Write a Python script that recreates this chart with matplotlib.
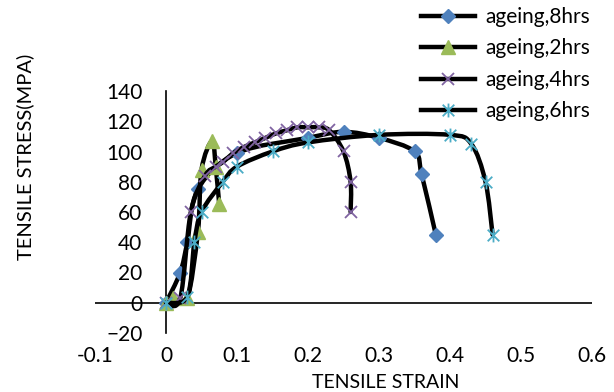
import numpy as np
from matplotlib import pyplot as plt
from matplotlib.path import Path
from matplotlib.patches import PathPatch
from matplotlib.lines import Line2D

# strain / stress readings per ageing time
x_8hrs = [0, 0.02, 0.03, 0.045, 0.1, 0.2, 0.25, 0.3, 0.35, 0.36, 0.38]
y_8hrs = [0, 20, 40, 75, 99, 109, 113, 109, 100, 85, 45]

x_2hrs = [0, 0.01, 0.03, 0.045, 0.05, 0.065, 0.07, 0.075]
y_2hrs = [0, 3, 3, 47, 88, 107, 90, 65]

x_4hrs = [0, 0.02, 0.035, 0.055, 0.07, 0.08, 0.095, 0.11, 0.125, 0.14,
          0.155, 0.17, 0.185, 0.2, 0.215, 0.23, 0.25, 0.26, 0.26]
y_4hrs = [0, 3, 60, 84, 90, 93, 99, 103, 106, 109,
          112, 114, 116, 116, 116, 114, 100, 80, 60]

x_6hrs = [0, 0.03, 0.04, 0.05, 0.08, 0.1, 0.15, 0.2, 0.3, 0.4, 0.43, 0.45, 0.46]
y_6hrs = [0, 4, 40, 60, 80, 90, 100, 106, 111, 111, 105, 80, 45]

labels = ['ageing,8hrs', 'ageing,2hrs', 'ageing,4hrs', 'ageing,6hrs']
colors = ['#4F81BD', '#9BBB59', '#8064A2', '#4BACC6']

x_ticks = [-0.1, 0, 0.1, 0.2, 0.3, 0.4, 0.5, 0.6]
y_ticks = [-20, 0, 20, 40, 60, 80, 100, 120, 140]

# excel style star: X plus vertical bar
star = Path([(-1, -1), (1, 1), (-1, 1), (1, -1), (0, -1.2), (0, 1.2)],
            [Path.MOVETO, Path.LINETO, Path.MOVETO, Path.LINETO,
             Path.MOVETO, Path.LINETO])

markers = [dict(marker='D', ms=7, mfc=colors[0], mec=colors[0]),
           dict(marker='^', ms=9.5, mfc=colors[1], mec=colors[1]),
           dict(marker='x', ms=9, mec=colors[2], mew=1.3),
           dict(marker=star, ms=10, mfc='none', mec=colors[3], mew=1.3)]


def smooth_path(xs, ys):
    # excel-like smoothed line: cubic bezier, catmull-rom control points
    p = np.column_stack([xs, ys]).astype(float)
    n = len(p)
    verts = [p[0]]
    codes = [Path.MOVETO]
    for i in range(n - 1):
        p0 = p[i - 1] if i > 0 else p[i]
        p1 = p[i]
        p2 = p[i + 1]
        p3 = p[i + 2] if i + 2 < n else p[i + 1]
        c1 = p1 + (p2 - p0) / 6
        c2 = p2 - (p3 - p1) / 6
        verts += [c1, c2, p2]
        codes += [Path.CURVE4] * 3
    return Path(verts, codes)


plt.rcParams['font.family'] = ['Lato', 'DejaVu Sans']

fig = plt.figure(figsize=(6.14, 3.92), dpi=100)
ax = fig.add_axes([95 / 614, 1 - 333 / 392, 497 / 614, 242 / 392])

series = [(x_8hrs, y_8hrs), (x_2hrs, y_2hrs), (x_4hrs, y_4hrs), (x_6hrs, y_6hrs)]
handles = []
for k, (xs, ys) in enumerate(series):
    patch = PathPatch(smooth_path(xs, ys), facecolor='none', edgecolor='black',
                      lw=3.2, zorder=3 + 2 * k, capstyle='round', joinstyle='round')
    ax.add_patch(patch)
    ax.plot(xs, ys, ls='none', zorder=4 + 2 * k, **markers[k])
    handles.append(Line2D([], [], color='black', lw=3.2, **markers[k]))

ax.set_xlim(-0.1, 0.6)
ax.set_ylim(-20, 140)
ax.set_xticks(x_ticks)
ax.set_xticklabels(['-0.1', '0', '0.1', '0.2', '0.3', '0.4', '0.5', '0.6'])
ax.set_yticks(y_ticks)

for s in ['top', 'right', 'bottom']:
    ax.spines[s].set_visible(False)
ax.spines['left'].set_position(('data', 0))
ax.spines['left'].set_linewidth(1.2)
ax.axhline(0, color='black', lw=1.2, zorder=2)

ax.tick_params(axis='both', length=0, labelsize=15)
ax.tick_params(axis='x', pad=9)
ax.tick_params(axis='y', pad=17)

fig.text(386 / 614, 1 - 382 / 392, 'TENSILE STRAIN', ha='center', va='center', fontsize=14)
fig.text(25 / 614, 1 - 157 / 392, 'TENSILE STRESS(MPA)', ha='center', va='center',
         rotation=90, fontsize=14.5)

fig.legend(handles, labels, loc='upper right', bbox_to_anchor=(590 / 614, 1 - 7 / 392),
           bbox_transform=fig.transFigure, frameon=False, fontsize=15,
           handlelength=2.6, handletextpad=0.5, labelspacing=0.55,
           borderpad=0, borderaxespad=0)

fig.savefig('out.png', dpi=100)
